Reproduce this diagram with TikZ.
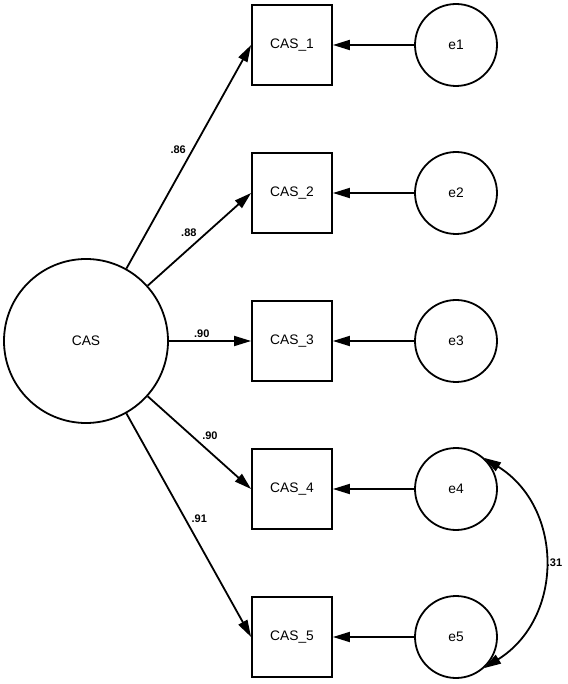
\documentclass[tikz,border=0pt]{standalone}
\usepackage{fontspec}
\setmainfont{Liberation Sans}
\usetikzlibrary{arrows.meta}

\begin{document}
\begin{tikzpicture}[
        grow'                   = right,
        line width              = 1.8pt,
        >                       = {Triangle[length=17pt, width=10pt]},
        font                    = \fontsize{13.8}{16}\selectfont,
        latent/.style           = {circle, draw, minimum size=164pt, inner sep=0pt},
        item/.style             = {rectangle, draw, minimum size=80pt, inner sep=0pt},
        error/.style            = {circle, draw, minimum size=82pt, inner sep=0pt},
        coef/.style             = {font=\fontsize{11}{12}\selectfont\bfseries, inner sep=2pt},
        level 1/.style          = {sibling distance=148pt, level distance=206pt,
                                   edge from parent/.style={draw, ->,
                                   edge from parent path={(\tikzparentnode) -- (\tikzchildnode.west)}}},
        level 2/.style          = {level distance=164pt,
                                   edge from parent/.style={draw, <-,
                                   edge from parent path={(\tikzparentnode) -- (\tikzchildnode)}}},
      ]
        \useasboundingbox (-86pt,-343pt) rectangle (481pt,341pt);
        \node[latent] (cas) {CAS}
            child {
                node[item] (x1) {CAS\_1}
                child { node[error] (e1) {e1} }
                edge from parent node[coef, above left, pos=.5] {.86}
            }
            child {
                node[item] (x2) {CAS\_2}
                child { node[error] (e2) {e2} }
                edge from parent node[coef, above left, pos=.5] {.88}
            }
            child {
                node[item] (x3) {CAS\_3}
                child { node[error] (e3) {e3} }
                edge from parent node[coef, above, pos=.4] {.90}
            }
            child {
                node[item] (x4) {CAS\_4}
                child { node[error] (e4) {e4} }
                edge from parent node[coef, above right, pos=.5] {.90}
            }
            child {
                node[item] (x5) {CAS\_5}
                child { node[error] (e5) {e5} }
                edge from parent node[coef, above right, pos=.5] {.91}
            };
        % correlated errors
        \draw[<->] (e4.48) to[out=-32, in=32, looseness=1.15]
            node[coef, right] {.31} (e5.-48);
    \end{tikzpicture}
\end{document}
